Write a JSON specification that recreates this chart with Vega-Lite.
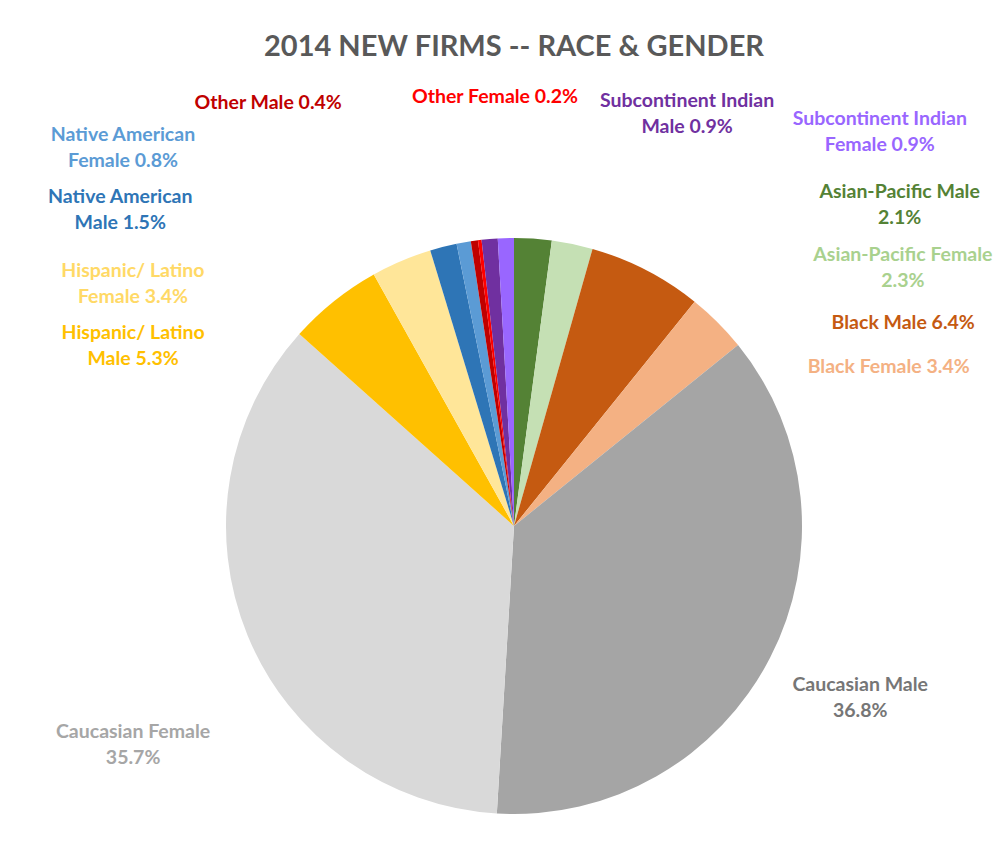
{
  "$schema": "https://vega.github.io/schema/vega-lite/v6.json",
  "autosize": "none",
  "width": 974,
  "height": 638,
  "padding": {"left": 27, "right": 0, "top": 207, "bottom": 0},
  "background": "white",
  "config": {"view": {"stroke": null}},
  "title": {"text": "2014 NEW FIRMS -- RACE & GENDER", "font": "Lato", "fontWeight": "bold", "fontSize": 29, "color": "#595959", "offset": 25, "anchor": "middle", "frame": "group"},
  "data": {"values": [
    {"idx": 1, "name": "Asian-Pacific Male", "pct": 2.1, "label": "Asian-Pacific Male\n2.1%"},
    {"idx": 2, "name": "Asian-Pacific Female", "pct": 2.3, "label": "Asian-Pacific Female\n2.3%"},
    {"idx": 3, "name": "Black Male", "pct": 6.4, "label": "Black Male 6.4%"},
    {"idx": 4, "name": "Black Female", "pct": 3.4, "label": "Black Female 3.4%"},
    {"idx": 5, "name": "Caucasian Male", "pct": 36.8, "label": "Caucasian Male\n36.8%"},
    {"idx": 6, "name": "Caucasian Female", "pct": 35.7, "label": "Caucasian Female\n35.7%"},
    {"idx": 7, "name": "Hispanic/ Latino Male", "pct": 5.3, "label": "Hispanic/ Latino\nMale 5.3%"},
    {"idx": 8, "name": "Hispanic/ Latino Female", "pct": 3.4, "label": "Hispanic/ Latino\nFemale 3.4%"},
    {"idx": 9, "name": "Native American Male", "pct": 1.5, "label": "Native American\nMale 1.5%"},
    {"idx": 10, "name": "Native American Female", "pct": 0.8, "label": "Native American\nFemale 0.8%"},
    {"idx": 11, "name": "Other Male", "pct": 0.4, "label": "Other Male 0.4%"},
    {"idx": 12, "name": "Other Female", "pct": 0.2, "label": "Other Female 0.2%"},
    {"idx": 13, "name": "Subcontinent Indian Male", "pct": 0.9, "label": "Subcontinent Indian\nMale 0.9%"},
    {"idx": 14, "name": "Subcontinent Indian Female", "pct": 0.9, "label": "Subcontinent Indian\nFemale 0.9%"}
  ]},
  "layer": [
    {
      "mark": {"type": "arc", "outerRadius": 288},
      "encoding": {
        "theta": {"field": "pct", "type": "quantitative", "stack": true},
        "order": {"field": "idx", "type": "quantitative"},
        "color": {"field": "name", "type": "nominal", "legend": null,
          "scale": {
            "domain": ["Asian-Pacific Male", "Asian-Pacific Female", "Black Male", "Black Female", "Caucasian Male", "Caucasian Female", "Hispanic/ Latino Male", "Hispanic/ Latino Female", "Native American Male", "Native American Female", "Other Male", "Other Female", "Subcontinent Indian Male", "Subcontinent Indian Female"],
            "range": ["#548235", "#C5E0B4", "#C55A11", "#F4B183", "#A5A5A5", "#D9D9D9", "#FFC000", "#FFE699", "#2E75B6", "#5B9BD5", "#C00000", "#FF0000", "#7030A0", "#9966FF"]
          }}
      }
    },
    {
      "transform": [{"stack": "pct", "groupby": [], "sort": [{"field": "idx", "order": "ascending"}], "as": ["a0", "a1"]}],
      "encoding": {
        "theta": {"field": "a0", "type": "quantitative"},
        "text": {"field": "label", "type": "nominal"}
      },
      "layer": [
        {"transform": [{"filter": "datum.idx === 1"}], "mark": {"type": "text", "radius": 510, "thetaOffset": 0.8574, "color": "#548235", "font": "Lato", "fontWeight": "bold", "fontSize": 19.5, "lineBreak": "\n", "lineHeight": 26, "align": "center", "baseline": "middle"}},
        {"transform": [{"filter": "datum.idx === 2"}], "mark": {"type": "text", "radius": 474, "thetaOffset": 0.8304, "color": "#A9D18E", "font": "Lato", "fontWeight": "bold", "fontSize": 19.5, "lineBreak": "\n", "lineHeight": 26, "align": "center", "baseline": "middle"}},
        {"transform": [{"filter": "datum.idx === 3"}], "mark": {"type": "text", "radius": 439, "thetaOffset": 0.8137, "color": "#C55A11", "font": "Lato", "fontWeight": "bold", "fontSize": 19.5, "lineBreak": "\n", "lineHeight": 26, "align": "center", "baseline": "middle"}},
        {"transform": [{"filter": "datum.idx === 4"}], "mark": {"type": "text", "radius": 407, "thetaOffset": 0.4917, "color": "#F4B183", "font": "Lato", "fontWeight": "bold", "fontSize": 19.5, "lineBreak": "\n", "lineHeight": 26, "align": "center", "baseline": "middle"}},
        {"transform": [{"filter": "datum.idx === 5"}], "mark": {"type": "text", "radius": 381, "thetaOffset": 1.1102, "color": "#767676", "font": "Lato", "fontWeight": "bold", "fontSize": 19.5, "lineBreak": "\n", "lineHeight": 26, "align": "center", "baseline": "middle"}},
        {"transform": [{"filter": "datum.idx === 6"}], "mark": {"type": "text", "radius": 433, "thetaOffset": 1.0155, "color": "#A6A6A6", "font": "Lato", "fontWeight": "bold", "fontSize": 19.5, "lineBreak": "\n", "lineHeight": 26, "align": "center", "baseline": "middle"}},
        {"transform": [{"filter": "datum.idx === 7"}], "mark": {"type": "text", "radius": 427, "thetaOffset": -0.2608, "color": "#FFC000", "font": "Lato", "fontWeight": "bold", "fontSize": 19.5, "lineBreak": "\n", "lineHeight": 26, "align": "center", "baseline": "middle"}},
        {"transform": [{"filter": "datum.idx === 8"}], "mark": {"type": "text", "radius": 458.5, "thetaOffset": -0.4726, "color": "#FFD966", "font": "Lato", "fontWeight": "bold", "fontSize": 19.5, "lineBreak": "\n", "lineHeight": 26, "align": "center", "baseline": "middle"}},
        {"transform": [{"filter": "datum.idx === 9"}], "mark": {"type": "text", "radius": 513, "thetaOffset": -0.58, "color": "#2E75B6", "font": "Lato", "fontWeight": "bold", "fontSize": 19.5, "lineBreak": "\n", "lineHeight": 26, "align": "center", "baseline": "middle"}},
        {"transform": [{"filter": "datum.idx === 10"}], "mark": {"type": "text", "radius": 553, "thetaOffset": -0.5845, "color": "#5B9BD5", "font": "Lato", "fontWeight": "bold", "fontSize": 19.5, "lineBreak": "\n", "lineHeight": 26, "align": "center", "baseline": "middle"}},
        {"transform": [{"filter": "datum.idx === 11"}], "mark": {"type": "text", "radius": 489, "thetaOffset": -0.3761, "color": "#C00000", "font": "Lato", "fontWeight": "bold", "fontSize": 19.5, "lineBreak": "\n", "lineHeight": 26, "align": "center", "baseline": "middle"}},
        {"transform": [{"filter": "datum.idx === 12"}], "mark": {"type": "text", "radius": 429, "thetaOffset": 0.0812, "color": "#FF0000", "font": "Lato", "fontWeight": "bold", "fontSize": 19.5, "lineBreak": "\n", "lineHeight": 26, "align": "center", "baseline": "middle"}},
        {"transform": [{"filter": "datum.idx === 13"}], "mark": {"type": "text", "radius": 459, "thetaOffset": 0.4996, "color": "#7030A0", "font": "Lato", "fontWeight": "bold", "fontSize": 19.5, "lineBreak": "\n", "lineHeight": 26, "align": "center", "baseline": "middle"}},
        {"transform": [{"filter": "datum.idx === 14"}], "mark": {"type": "text", "radius": 547, "thetaOffset": 0.789, "color": "#9966FF", "font": "Lato", "fontWeight": "bold", "fontSize": 19.5, "lineBreak": "\n", "lineHeight": 26, "align": "center", "baseline": "middle"}}
      ]
    }
  ]
}
